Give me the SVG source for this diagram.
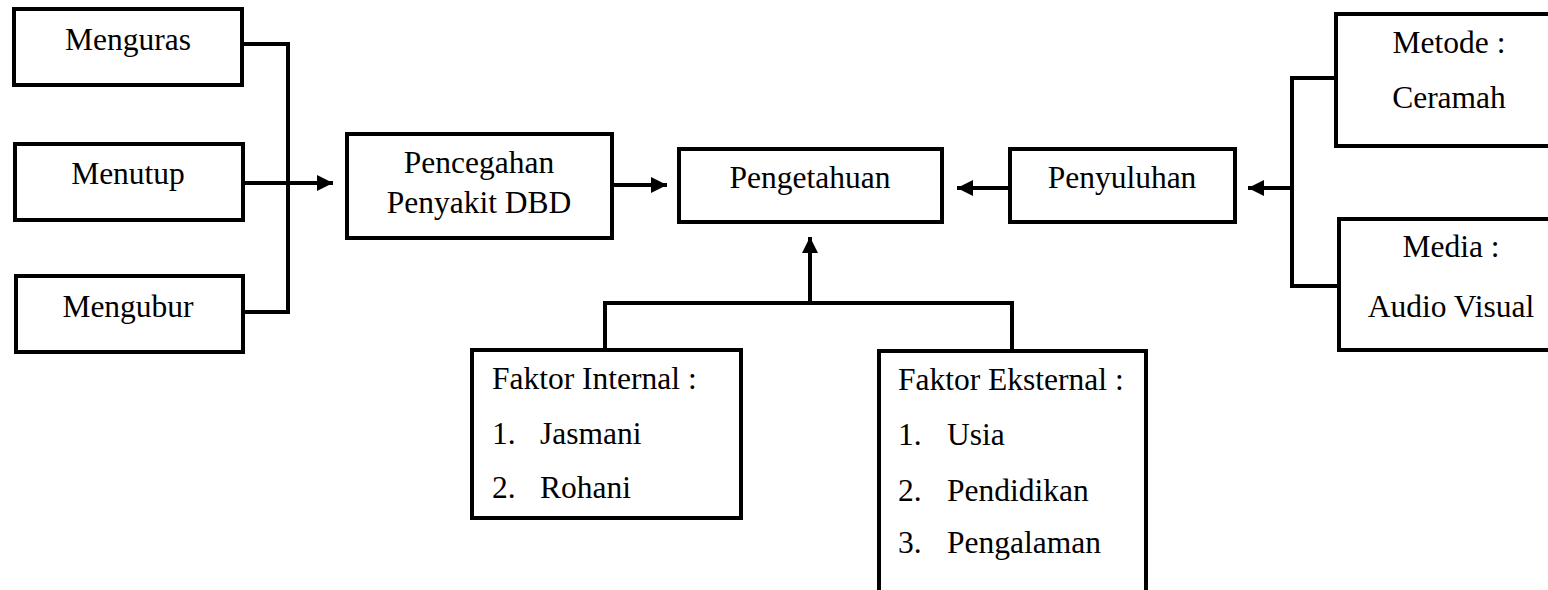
<svg xmlns="http://www.w3.org/2000/svg" width="1548" height="590" viewBox="0 0 1548 590">
<style>
.box{fill:#fff;stroke:#000;stroke-width:4}
.ln{fill:none;stroke:#000;stroke-width:4}
text{font-family:"Liberation Serif","Times New Roman",serif;font-size:31.5px;fill:#000}
.c{text-anchor:middle}
</style>
<defs>
<marker id="arr" markerUnits="userSpaceOnUse" markerWidth="18" markerHeight="18" refX="16" refY="8" orient="auto">
<path d="M0,0 L16,8 L0,16 z" fill="#000"/>
</marker>
</defs>
<rect width="1548" height="590" fill="#fff"/>
<g id="connectors">
<polyline class="ln" points="244,44 288,44 288,312 245,312"/>
<line class="ln" x1="243" y1="183" x2="333" y2="183" marker-end="url(#arr)"/>
<line class="ln" x1="613" y1="185" x2="667" y2="185" marker-end="url(#arr)"/>
<line class="ln" x1="1008" y1="188" x2="957" y2="188" marker-end="url(#arr)"/>
<line class="ln" x1="1292" y1="188" x2="1248" y2="188" marker-end="url(#arr)"/>
<polyline class="ln" points="1335,78 1292,78 1292,286 1338,286"/>
<polyline class="ln" points="605,348 605,303 1012,303 1012,349"/>
<line class="ln" x1="810" y1="303" x2="810" y2="237" marker-end="url(#arr)"/>
</g>
<g id="menguras"><rect class="box" x="14" y="9" width="228" height="76"/><text class="c" x="128" y="50">Menguras</text></g>
<g id="menutup"><rect class="box" x="15" y="144" width="228" height="76"/><text class="c" x="128" y="184">Menutup</text></g>
<g id="mengubur"><rect class="box" x="16" y="276" width="227" height="76"/><text class="c" x="128" y="317">Mengubur</text></g>
<g id="pencegahan"><rect class="box" x="347" y="134" width="265" height="104"/><text class="c" x="479" y="173">Pencegahan</text><text class="c" x="479" y="213">Penyakit DBD</text></g>
<g id="pengetahuan"><rect class="box" x="679" y="149" width="263" height="73"/><text class="c" x="810" y="188">Pengetahuan</text></g>
<g id="penyuluhan"><rect class="box" x="1010" y="149" width="225" height="73"/><text class="c" x="1122" y="188">Penyuluhan</text></g>
<g id="metode"><rect class="box" x="1336" y="14" width="300" height="132"/><text class="c" x="1449" y="53">Metode :</text><text class="c" x="1449" y="108">Ceramah</text></g>
<g id="media"><rect class="box" x="1339" y="219" width="300" height="131"/><text class="c" x="1451" y="257">Media :</text><text class="c" x="1451" y="317">Audio Visual</text></g>
<g id="faktor-internal"><rect class="box" x="472" y="350" width="269" height="168"/>
<text x="492" y="389">Faktor Internal :</text>
<text x="492" y="444">1.</text><text x="540" y="444">Jasmani</text>
<text x="492" y="498">2.</text><text x="540" y="498">Rohani</text></g>
<g id="faktor-eksternal"><rect class="box" x="879" y="351" width="267" height="300"/>
<text x="898" y="390">Faktor Eksternal :</text>
<text x="898" y="445">1.</text><text x="947" y="445">Usia</text>
<text x="898" y="501">2.</text><text x="947" y="501">Pendidikan</text>
<text x="898" y="553">3.</text><text x="947" y="553">Pengalaman</text></g>
</svg>
